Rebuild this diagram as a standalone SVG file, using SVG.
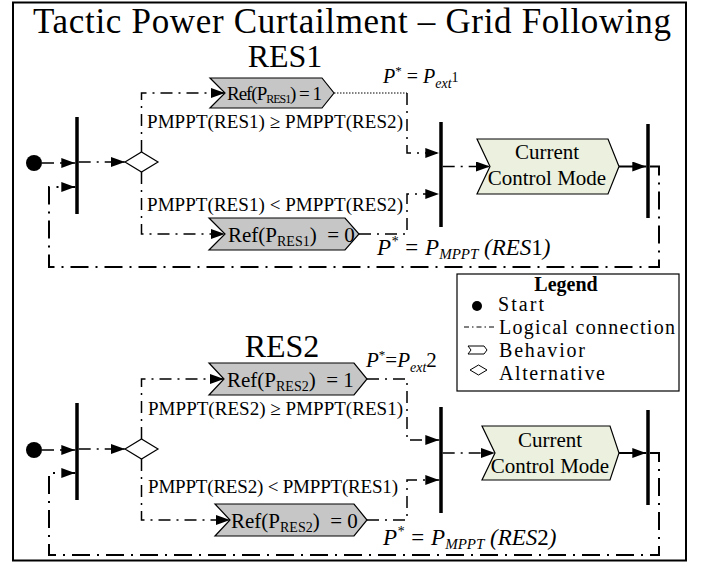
<svg xmlns="http://www.w3.org/2000/svg" width="706" height="563" viewBox="0 0 706 563">
<defs>
<marker id="arr" markerWidth="14" markerHeight="10" refX="14" refY="5" orient="auto" markerUnits="userSpaceOnUse"><path d="M0,0 L14,5 L0,10 z" fill="#000"/></marker>
</defs>
<style>
text{font-family:"Liberation Serif","Times New Roman",serif;fill:#000}
.dd{fill:none;stroke:#000;stroke-width:1.5;stroke-dasharray:12 6 2 6}
.loop{fill:none;stroke:#000;stroke-width:2;stroke-dasharray:18 7 2 7}
.dot{fill:none;stroke:#000;stroke-width:1;stroke-dasharray:1.5 1.5}
.solid{fill:none;stroke:#000;stroke-width:2}
.bar{stroke:#000;stroke-width:3.5}
.beh{fill:#c6c6c6;stroke:#000;stroke-width:1.2}
.ccm{fill:#ebf1de;stroke:#000;stroke-width:1.2}
.alt{fill:#fff;stroke:#000;stroke-width:1.2}
.m{font-style:italic}
.lbl{font-size:19px}
.bt{font-size:21px}
.lg{font-size:20px}
</style>
<rect x="13" y="2.5" width="673" height="558" fill="none" stroke="#000" stroke-width="2"/>
<text x="352" y="33" font-size="35" text-anchor="middle" textLength="638">Tactic Power Curtailment – Grid Following</text>
<text x="285" y="67" font-size="32" text-anchor="middle">RES1</text>
<text x="282" y="357" font-size="32" text-anchor="middle">RES2</text>

<g id="connectors">
<path class="dd" d="M42,163 H75.3" marker-end="url(#arr)"/>
<path class="loop" d="M650,166.5 H659 V267 H49 V187 H75.3" marker-end="url(#arr)"/>
<path class="dd" d="M78.7,162 H125" marker-end="url(#arr)"/>
<path class="dd" d="M141.5,152 V93 H225" marker-end="url(#arr)"/>
<path class="dd" d="M141.5,172 V234 H225" marker-end="url(#arr)"/>
<path class="dot" d="M334,93 H407"/>
<path class="dd" d="M407,93 V153 H439.3" marker-end="url(#arr)"/>
<path class="dd" d="M359,234 H407 V194 H439.3" marker-end="url(#arr)"/>
<path class="dd" d="M442.7,166.5 H490" marker-end="url(#arr)"/>
<path class="solid" d="M619,166.5 H646.3" marker-end="url(#arr)"/>

<path class="dd" d="M42,450 H75.3" marker-end="url(#arr)"/>
<path class="loop" d="M650,453 H659 V555 H49 V473 H75.3" marker-end="url(#arr)"/>
<path class="dd" d="M78.7,449 H125" marker-end="url(#arr)"/>
<path class="dd" d="M141.5,439 V379 H224" marker-end="url(#arr)"/>
<path class="dd" d="M141.5,459 V520 H230" marker-end="url(#arr)"/>
<path class="dd" d="M367,379 H407 V440 H439.3" marker-end="url(#arr)"/>
<path class="dd" d="M367,520 H407 V480 H439.3" marker-end="url(#arr)"/>
<path class="dd" d="M442.7,453 H495" marker-end="url(#arr)"/>
<path class="solid" d="M619,453 H646.3" marker-end="url(#arr)"/>
</g>

<g id="start1"><circle cx="34" cy="163" r="8" fill="#000"/></g>
<g id="fork1"><line class="bar" x1="77" y1="117" x2="77" y2="214"/></g>
<g id="decision1"><polygon class="alt" points="125,162 141.5,152 158,162 141.5,172"/></g>
<g id="ref1a"><polygon class="beh" points="210,78 322,78 334,93 322,108 210,108 225,93"/>
<text x="227" y="100" font-size="19" textLength="95">Ref(P<tspan font-size="12" dy="3">RES1</tspan><tspan dy="-3">) = 1</tspan></text></g>
<g id="ref1b"><polygon class="beh" points="209,218 345,218 359,234 345,250 209,250 225,234"/>
<text x="228" y="242" class="bt">Ref(P<tspan font-size="14" dy="4">RES1</tspan><tspan dy="-4">)&#160;&#160;= 0</tspan></text></g>
<g id="join1"><line class="bar" x1="441" y1="122" x2="441" y2="227"/></g>
<g id="ccm1"><polygon class="ccm" points="477,139 608,139 619,166.5 608,194 477,194 490,166.5"/>
<text x="547" y="159" font-size="21" text-anchor="middle">Current</text>
<text x="547" y="185" font-size="21" text-anchor="middle">Control Mode</text></g>
<g id="end1"><line class="bar" x1="648" y1="124" x2="648" y2="218"/></g>
<text x="147" y="128" class="lbl" textLength="256">PMPPT(RES1) ≥ PMPPT(RES2)</text>
<text x="147" y="211" class="lbl" textLength="256">PMPPT(RES1) &lt; PMPPT(RES2)</text>
<text x="383" y="83" font-size="20"><tspan class="m">P</tspan><tspan dy="-8" font-size="13">*</tspan><tspan dy="8"> = </tspan><tspan class="m">P</tspan><tspan class="m" dy="5" font-size="14">ext</tspan><tspan dy="-6" font-size="14">1</tspan></text>
<text x="377" y="255" font-size="23" class="m">P<tspan dy="-9" font-size="14">*</tspan><tspan dy="9"> = P</tspan><tspan dy="4" font-size="15">MPPT</tspan><tspan dy="-4"> (RES</tspan><tspan font-style="normal">1</tspan>)</text>

<g id="start2"><circle cx="34" cy="450" r="8" fill="#000"/></g>
<g id="fork2"><line class="bar" x1="77" y1="403" x2="77" y2="500"/></g>
<g id="decision2"><polygon class="alt" points="125,449 141.5,439 158,449 141.5,459"/></g>
<g id="ref2a"><polygon class="beh" points="209,363 354,363 367,379 354,395 209,395 224,379"/>
<text x="227" y="387" class="bt">Ref(P<tspan font-size="14" dy="4">RES2</tspan><tspan dy="-4">)&#160;&#160;= 1</tspan></text></g>
<g id="ref2b"><polygon class="beh" points="215,504 354,504 367,520 354,536 215,536 230,520"/>
<text x="231" y="528" class="bt">Ref(P<tspan font-size="14" dy="4">RES2</tspan><tspan dy="-4">)&#160;&#160;= 0</tspan></text></g>
<g id="join2"><line class="bar" x1="441" y1="407" x2="441" y2="513"/></g>
<g id="ccm2"><polygon class="ccm" points="482,426 610,426 619,453 610,480 482,480 495,453"/>
<text x="550" y="447" font-size="21" text-anchor="middle">Current</text>
<text x="550" y="473" font-size="21" text-anchor="middle">Control Mode</text></g>
<g id="end2"><line class="bar" x1="648" y1="410" x2="648" y2="505"/></g>
<text x="148" y="415" class="lbl" textLength="255">PMPPT(RES2) ≥ PMPPT(RES1)</text>
<text x="148" y="493" class="lbl" textLength="250">PMPPT(RES2) &lt; PMPPT(RES1)</text>
<text x="366" y="367" font-size="21"><tspan class="m">P</tspan><tspan dy="-8" font-size="13">*</tspan><tspan dy="8">=</tspan><tspan class="m">P</tspan><tspan class="m" dy="4.5" font-size="14">ext</tspan><tspan dy="-4.5">2</tspan></text>
<text x="383" y="545" font-size="23" class="m">P<tspan dy="-9" font-size="14">*</tspan><tspan dy="9"> = P</tspan><tspan dy="4" font-size="15">MPPT</tspan><tspan dy="-4"> (RES</tspan><tspan font-style="normal">2</tspan>)</text>

<g id="legend">
<rect x="457" y="274" width="222" height="117" fill="#fff" stroke="#000" stroke-width="1.2"/>
<text x="566" y="291" font-size="20" font-weight="bold" text-anchor="middle">Legend</text>
<circle cx="477" cy="306" r="5" fill="#000"/>
<text x="498" y="311" class="lg" textLength="46">Start</text>
<line x1="464" y1="327" x2="495" y2="327" stroke="#000" stroke-width="1" stroke-dasharray="5 3 1.5 3"/>
<text x="499" y="334" class="lg" textLength="176">Logical connection</text>
<polygon points="468,346 484,346 487,350 484,354 468,354 471,350" fill="#fff" stroke="#000" stroke-width="1"/>
<text x="499" y="357" class="lg" textLength="86">Behavior</text>
<polygon points="470,370 478.5,365 487,370 478.5,375" fill="#fff" stroke="#000" stroke-width="1"/>
<text x="499" y="380" class="lg" textLength="106">Alternative</text>
</g>
</svg>
